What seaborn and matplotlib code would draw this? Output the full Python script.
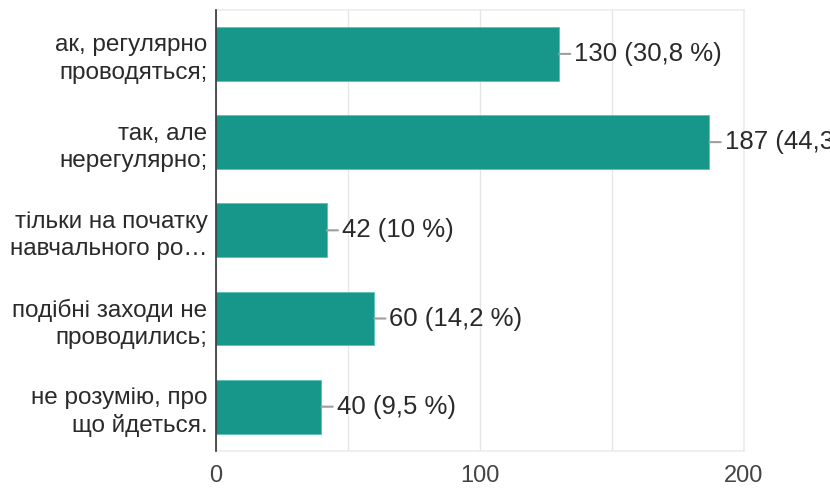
import matplotlib
matplotlib.use("Agg")
import matplotlib.pyplot as plt
import seaborn as sns
import pandas as pd

categories = [
    "ак, регулярно\nпроводяться;",
    "так, але\nнерегулярно;",
    "тільки на початку\nнавчального ро…",
    "подібні заходи не\nпроводились;",
    "не розумію, про\nщо йдеться.",
]
values = [130, 187, 42, 60, 40]
percents = ["30,8 %", "44,3 %", "10 %", "14,2 %", "9,5 %"]
x_ticks = [0, 100, 200]

sns.set_theme(style="white")
plt.rcParams["font.family"] = ["Liberation Sans", "DejaVu Sans"]

df = pd.DataFrame({"cat": categories, "val": values})

fig = plt.figure(figsize=(8.3, 4.9), dpi=100)
ax = fig.add_axes([0.260, 0.080, 0.636, 0.900])

sns.barplot(data=df, x="val", y="cat", orient="h", color="#17968a",
            saturation=1, width=0.61, edgecolor="#5cc0b3", linewidth=0.6, ax=ax)

ax.set_xlim(0, 200)
ax.set_ylim(len(categories) - 0.5, -0.5)
ax.set_xticks(x_ticks)
ax.set_xticklabels([str(t) for t in x_ticks], fontsize=17, color="#444444")
for g in [0, 50, 100, 150, 200]:
    ax.axvline(g, color="#e6e6e6", lw=1, zorder=0)
ax.tick_params(axis="x", length=0, pad=10)
ax.tick_params(axis="y", length=0, pad=6)
for lbl in ax.get_yticklabels():
    lbl.set_fontsize(17.5)
    lbl.set_color("#2a2a2a")
    lbl.set_horizontalalignment("right")
    lbl.set_multialignment("right")
    lbl.set_linespacing(1.3)
ax.set_xlabel("")
ax.set_ylabel("")

for s in ["top", "right", "bottom"]:
    ax.spines[s].set_color("#ececec")
    ax.spines[s].set_linewidth(1.2)
ax.spines["left"].set_color("#333333")
ax.spines["left"].set_linewidth(1.2)
ax.spines["left"].set_zorder(5)

for i, (v, p) in enumerate(zip(values, percents)):
    ax.annotate(f"{v} ({p})", xy=(v, i), xytext=(11, 0), textcoords="offset points",
                va="center", ha="left", fontsize=18.5, color="#2a2a2a",
                annotation_clip=False,
                arrowprops=dict(arrowstyle="-", color="#9e9e9e", lw=1.5,
                                shrinkA=0.5, shrinkB=0, relpos=(0, 0.5)))

fig.savefig("out.png", dpi=100)
